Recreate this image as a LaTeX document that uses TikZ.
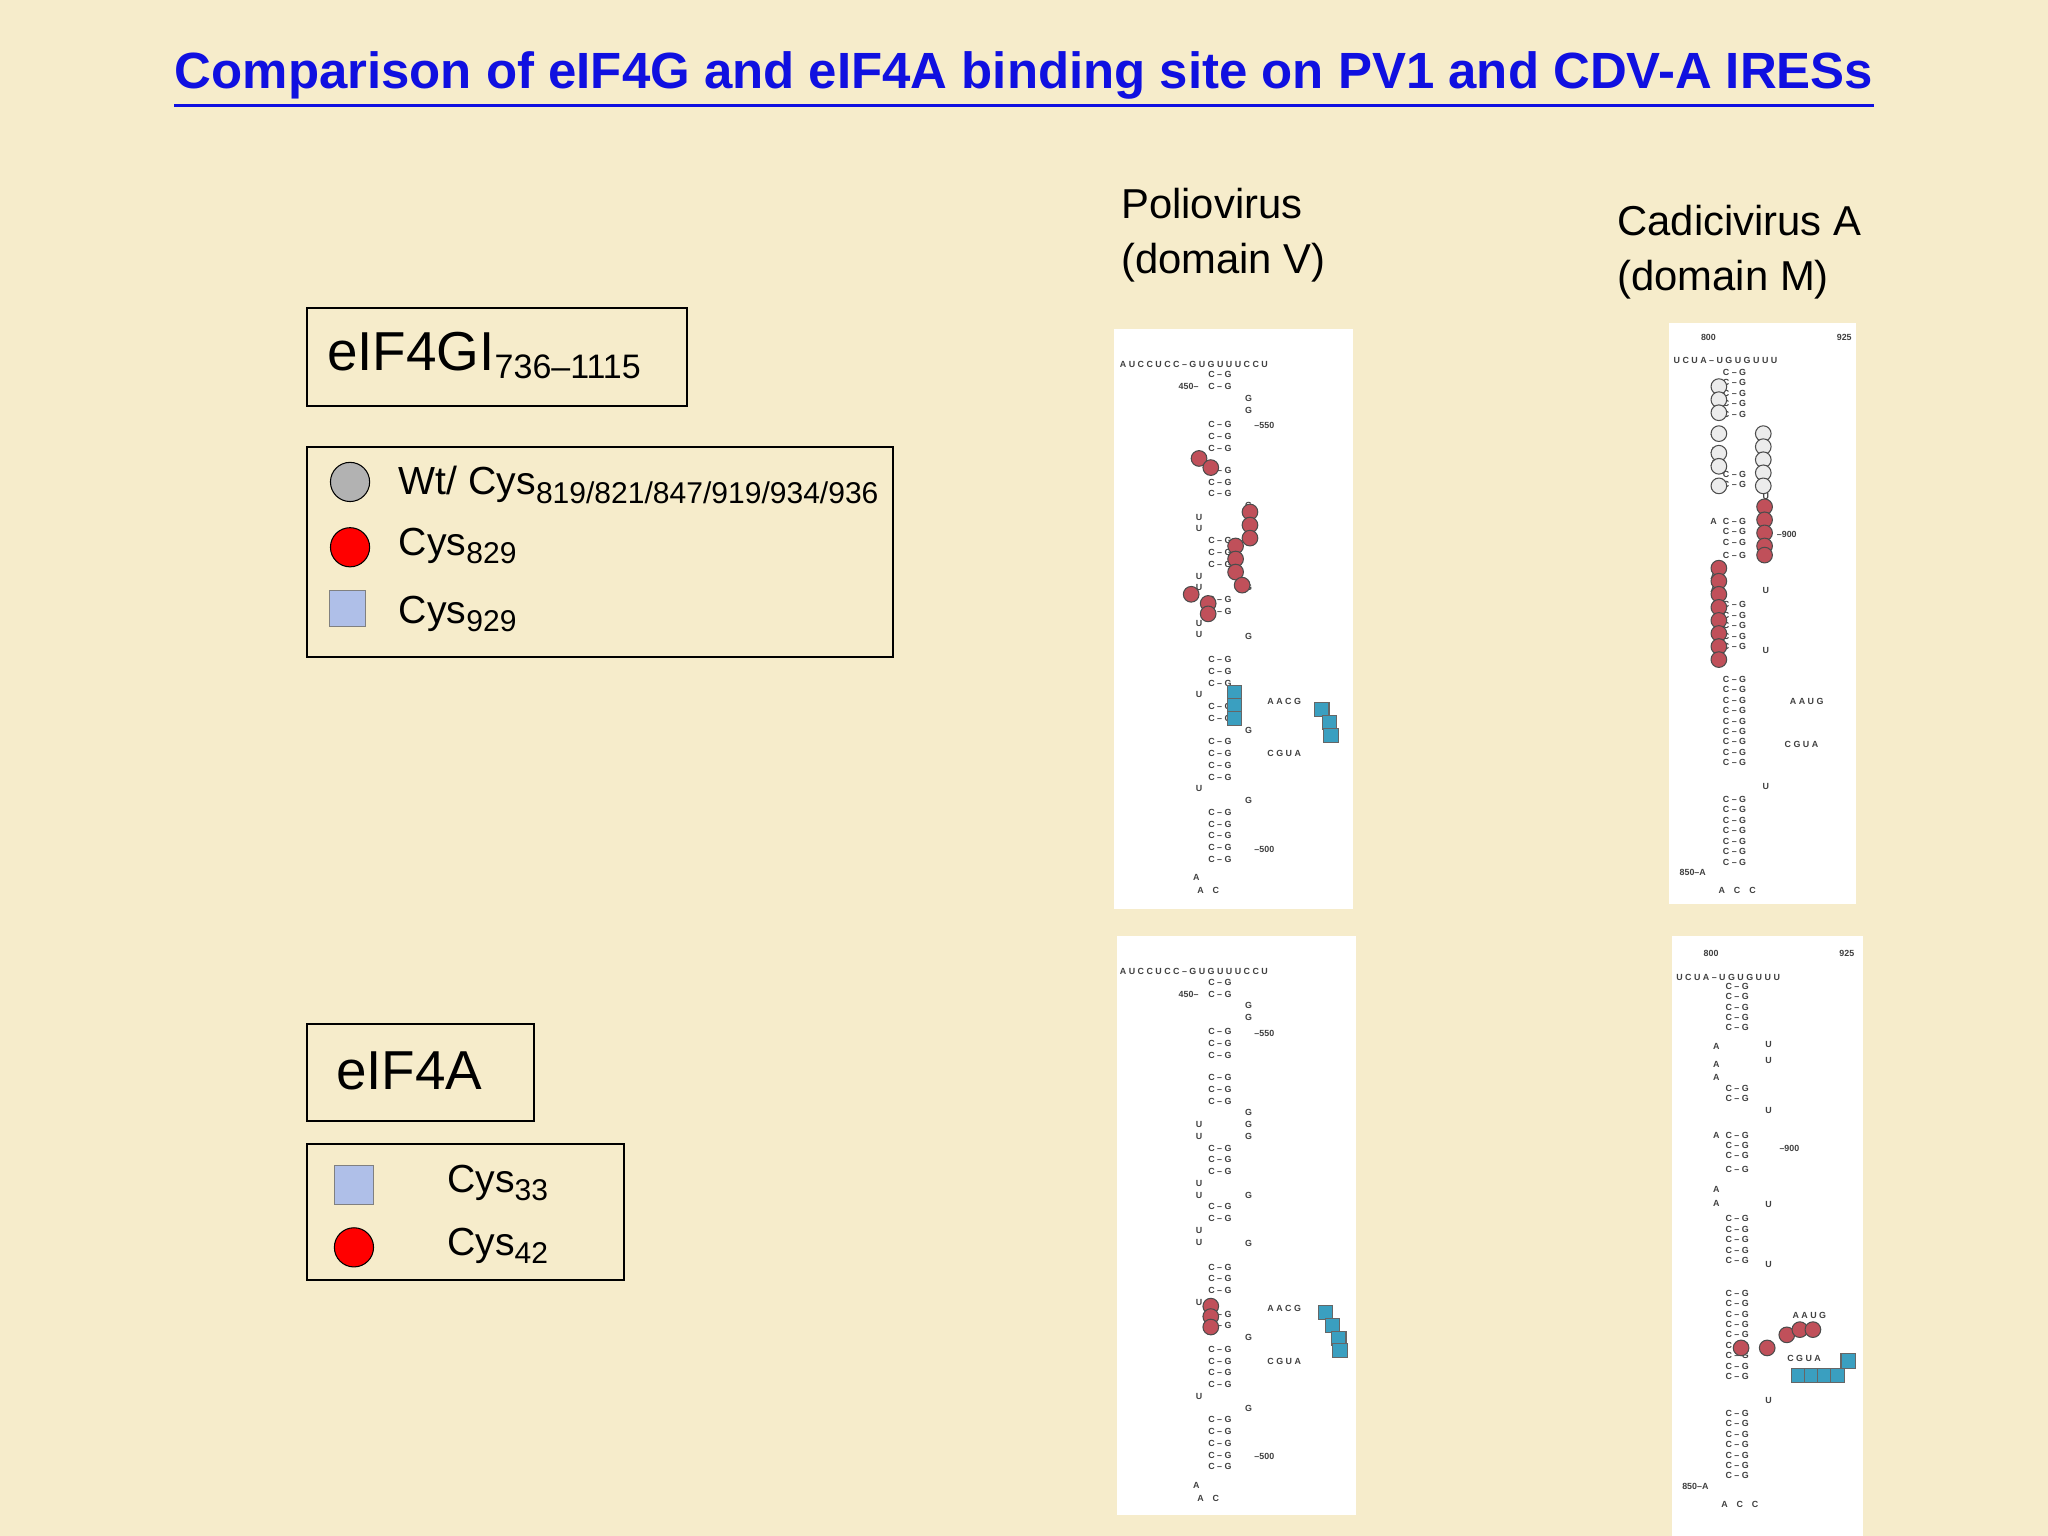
\documentclass[tikz,border=0pt]{standalone}
\usepackage{fontspec}
\setmainfont{Liberation Sans}
\definecolor{bg}{HTML}{F6ECCB}
\definecolor{ttl}{HTML}{1010E0}
\definecolor{lblue}{HTML}{AFBFE8}
\definecolor{rna}{HTML}{C0505A}
\definecolor{tq}{HTML}{3A9FC0}
\begin{document}
\begin{tikzpicture}[x=0.5pt,y=-0.5pt,
  box/.style={draw=black,line width=0.8pt,fill=bg},
  lab/.style={anchor=west,inner sep=0pt,font=\fontsize{15}{18}\selectfont},
  big/.style={anchor=west,inner sep=0pt,font=\fontsize{21}{24}\selectfont},
  panel/.style={fill=white,draw=none},
  base/.style={font=\bfseries\fontsize{3.4}{4}\selectfont,inner sep=0pt,text=black!75},
  rc/.style={circle,draw=black!70,fill=rna,minimum size=6pt,inner sep=0pt},
  gc/.style={circle,draw=black!70,fill=gray!15,minimum size=6pt,inner sep=0pt},
  bs/.style={draw=black!60,fill=tq,minimum size=5.5pt,inner sep=0pt}]
\fill[bg] (0,0) rectangle (1568,1176);
\useasboundingbox (0,0) rectangle (1568,1176);
\node[font=\bfseries\fontsize{19.5}{22}\selectfont,text=ttl,inner sep=0pt] (title) at (784,58) {Comparison of eIF4G and eIF4A binding site on PV1 and CDV-A IRESs};
\draw[ttl,line width=1.2pt] ([yshift=-2pt]title.south west) -- ([yshift=-2pt]title.south east);
% left boxes
\draw[box] (235,236) rectangle (526,311);
\node[big] (g) at (250,272) {eIF4GI$_{\mbox{\fontsize{13}{14}\selectfont 736–1115}}$};
\draw[box] (235,342) rectangle (684,503);
\node[circle,draw=black,fill=gray!60,minimum size=15pt] (c1) at (268,369) {};
\node[lab] (t1) at (305,371) {Wt/ Cys$_{\mbox{\fontsize{11.5}{12}\selectfont 819/821/847/919/934/936}}$};
\node[circle,draw=black,fill=red,minimum size=15pt] (c2) at (268,419) {};
\node[lab] (t2) at (305,418) {Cys$_{\mbox{\fontsize{11.5}{12}\selectfont 829}}$};
\node[draw=black!50,fill=lblue,minimum size=14pt] (s1) at (266,466) {};
\node[lab] (t3) at (305,470) {Cys$_{\mbox{\fontsize{11.5}{12}\selectfont 929}}$};
\draw[box] (235,784) rectangle (409,858);
\node[big] (a) at (257,820) {eIF4A};
\draw[box] (235,876) rectangle (478,980);
\node[draw=black!50,fill=lblue,minimum size=15pt] (s2) at (271,907) {};
\node[lab] (t4) at (342,906) {Cys$_{\mbox{\fontsize{11.5}{12}\selectfont 33}}$};
\node[circle,draw=black,fill=red,minimum size=15pt] (c3) at (271,955) {};
\node[lab] (t5) at (342,954) {Cys$_{\mbox{\fontsize{11.5}{12}\selectfont 42}}$};
% virus labels
\node[lab,font=\fontsize{16}{21}\selectfont,align=left] (pv) at (858,180) {Poliovirus\\(domain V)};
\node[lab,font=\fontsize{16}{21}\selectfont,align=left] (cv) at (1238,193) {Cadicivirus A\\(domain M)};
% panels
\fill[panel] (853,252) rectangle (1036,696);
\fill[panel] (1278,247) rectangle (1421,692);
\fill[panel] (855,717) rectangle (1038,1160);
\fill[panel] (1280,717) rectangle (1426,1176);
% poliovirus stems
\foreach \dy in {0,465}{
 \node[base,anchor=west] at (857,279+\dy) {A U C C U C C – G U G U U U C C U};
 \node[base] at (910,296+\dy) {450–};
 \foreach \y in {287,296,325,334,343,360,369,378,414,423,432,459,468,505,514,523,541,550,568,577,586,595,622,631,640,649,658}{
   \node[base] at (934,\y+\dy) {C – G};}
 \foreach \y in {396,405,441,450,477,486,532,604}{ \node[base] at (918,\y+\dy) {U};}
 \foreach \y in {305,314,387,396,405,450,487,559,613}{ \node[base] at (956,\y+\dy) {G};}
 \node[base] at (968,326+\dy) {–550};
 \node[base] at (968,650+\dy) {–500};
 \node[base,anchor=west] at (970,537+\dy) {A A C G};
 \node[base,anchor=west] at (970,577+\dy) {C G U A};
 \node[base] at (916,672+\dy) {A};
 \node[base] at (925,682+\dy) {A\quad C};
}
\foreach \x/\y in {918/351,927/358,957/392,957/402,957/412,946/418,946/428,946/438,951/448,912/455,925/462,925/470}{\node[rc] at (\x,\y) {};}
\foreach \x/\y in {945/530,945/540,945/550,1012/543,1018/553,1019/563}{\node[bs] at (\x,\y) {};}
\foreach \x/\y in {927/1000,927/1008,927/1016}{\node[rc] at (\x,\y) {};}
\foreach \x/\y in {1015/1005,1020/1015,1025/1025,1026/1034}{\node[bs] at (\x,\y) {};}
% cadicivirus stems
\foreach \dx/\dy/\t in {0/0/258,2/470/730}{
 \node[base] at (1308+\dx,\t) {800}; \node[base] at (1412+\dx,\t) {925};
 \node[base,anchor=west] at (1281+\dx,\t+18) {U C U A – U G U G U U U};
 \foreach \y in {285,293,301,309,317,363,371,399,407,415,425,463,471,479,487,495,520,528,536,544,552,560,568,576,584,612,620,628,636,644,652,660}{
   \node[base] at (1328+\dx,\y+\dy) {C – G};}
 \foreach \y in {331,345,355,399,441,451}{\node[base] at (1312+\dx,\y+\dy) {A};}
 \foreach \y in {330,342,380,452,498,602}{\node[base] at (1352+\dx,\y+\dy) {U};}
 \node[base] at (1368+\dx,409+\dy) {–900};
 \node[base,anchor=west] at (1370+\dx,537+\dy) {A A U G};
 \node[base,anchor=west] at (1366+\dx,570+\dy) {C G U A};
 \node[base] at (1296+\dx,668+\dy) {850–A};
 \node[base] at (1330+\dx,682+\dy) {A\quad C\quad C};
}
\foreach \y in {296,306,316,332,347,357,372}{\node[gc] at (1316,\y) {};}
\foreach \y in {332,342,352,362,372}{\node[gc] at (1350,\y) {};}
\foreach \y in {388,398,408,418,425}{\node[rc] at (1351,\y) {};}
\foreach \y in {435,445,455,465,475,485,495,505}{\node[rc] at (1316,\y) {};}
\foreach \x/\y in {1333/1032,1353/1032,1368/1022,1378/1018,1388/1018}{\node[rc] at (\x,\y) {};}
\foreach \x in {1377,1387,1397,1407}{\node[bs] at (\x,1053) {};}
\node[bs] at (1415,1042) {};
\end{tikzpicture}
\end{document}
